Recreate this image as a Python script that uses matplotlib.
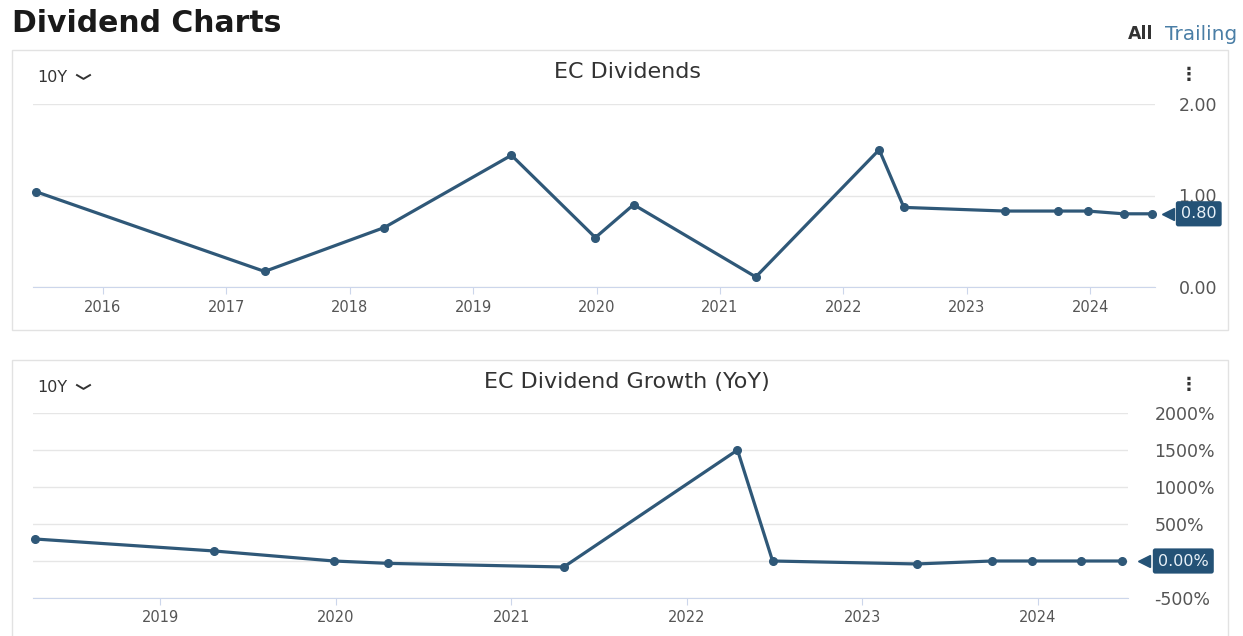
import matplotlib
matplotlib.use("Agg")  # headless
import matplotlib.pyplot as plt
from matplotlib.patches import Rectangle
from matplotlib.lines import Line2D

# --- data (decimal years) ---
div_dates = [2015.46, 2017.31, 2018.28, 2019.31, 2019.99, 2020.30, 2021.29,
             2022.29, 2022.49, 2023.31, 2023.74, 2023.98, 2024.27, 2024.50]
div_values = [1.04, 0.17, 0.65, 1.44, 0.54, 0.90, 0.11,
              1.50, 0.87, 0.83, 0.83, 0.83, 0.80, 0.80]

growth_dates = [2018.29, 2019.31, 2019.99, 2020.30, 2021.30, 2022.29,
                2022.49, 2023.31, 2023.74, 2023.97, 2024.25, 2024.48]
growth_values = [297, 135, 0, -32, -81, 1500, 0, -40, 0, 0, 0, 0]

div_years = [2016, 2017, 2018, 2019, 2020, 2021, 2022, 2023, 2024]
growth_years = [2019, 2020, 2021, 2022, 2023, 2024]
div_yticks = [0.0, 1.0, 2.0]
div_ylabels = ["0.00", "1.00", "2.00"]
growth_yticks = [-500, 0, 500, 1000, 1500, 2000]
# the 0% label sits under the value badge in the original
growth_ylabels = ["-500%", "", "500%", "1000%", "1500%", "2000%"]

LINE = "#2f5878"
BADGE = "#245276"
GRID = "#e6e6e6"
AXIS = "#ccd6eb"

W, H = 1243, 636


def fx(px):
    return px / W


def fy(py):
    return 1 - py / H


plt.rcParams["font.family"] = ["DejaVu Sans"]
fig = plt.figure(figsize=(W / 100, H / 100), dpi=100)

# panel frames
for top, bot in [(50, 330), (360, 640)]:
    fig.add_artist(Rectangle((fx(12), fy(bot)), fx(1228) - fx(12), fy(top) - fy(bot),
                             transform=fig.transFigure, fill=False,
                             edgecolor="#e2e2e2", linewidth=1))

fig.text(fx(12), fy(23), "Dividend Charts", fontsize=21.5, fontweight="bold",
         color="#1a1a1a", va="center", ha="left")
fig.text(fx(1153), fy(34), "All", fontsize=12.5, fontweight="bold", color="#333333",
         va="center", ha="right")
fig.text(fx(1165), fy(34), "Trailing", fontsize=14.5, color="#4a7ea6",
         va="center", ha="left")


def panel(rect, xlim, dates, values, years, yticks, ylabels, ylim, title,
          title_y, ylab_pad, badge_text, badge_x, tri_x):
    ax = fig.add_axes(rect)
    ax.plot(dates, values, color=LINE, linewidth=2.3, marker="o", markersize=5.5,
            clip_on=False, zorder=4)
    ax.set_xlim(*xlim)
    ax.set_ylim(*ylim)
    ax.set_xticks(years)
    ax.set_xticklabels([str(y) for y in years])
    ax.set_yticks(yticks)
    ax.set_yticklabels(ylabels)
    ax.yaxis.tick_right()
    ax.grid(axis="y", color=GRID, linewidth=1)
    ax.set_axisbelow(True)
    for s in ["top", "left", "right"]:
        ax.spines[s].set_visible(False)
    ax.spines["bottom"].set_color(AXIS)
    ax.tick_params(axis="x", length=5, color=AXIS, labelcolor="#555555",
                   labelsize=10.5, pad=4)
    ax.tick_params(axis="y", length=0, labelcolor="#555555", labelsize=12.5,
                   pad=ylab_pad)
    # value badge with a small callout arrow
    last = values[-1]
    ax.plot([tri_x], [last], marker="<", markersize=8, color=BADGE,
            transform=ax.get_yaxis_transform(), clip_on=False, zorder=5)
    ax.text(badge_x, last, badge_text, transform=ax.get_yaxis_transform(),
            ha="center", va="center", fontsize=11.5, color="#e8f1f8", zorder=6,
            bbox=dict(boxstyle="round,pad=0.32,rounding_size=0.15", fc=BADGE, ec="none"))
    # header bits
    fig.text(fx(627), fy(title_y), title, fontsize=16, color="#333333",
             ha="center", va="center")
    fig.text(fx(37), fy(title_y + 5), "10Y", fontsize=11.5, color="#333333",
             ha="left", va="center")
    cy = fy(title_y + 5)
    fig.add_artist(Line2D([fx(77), fx(83.5), fx(90)], [cy + 0.003, cy - 0.003, cy + 0.003],
                          transform=fig.transFigure, color="#333333", linewidth=1.4))
    fig.text(fx(1189), fy(title_y + 3), "\u22ee", fontsize=13, color="#333333",
             ha="center", va="center", fontweight="bold")
    return ax


panel([fx(33), fy(287), fx(1155) - fx(33), fy(104) - fy(287)],
      (2015.433, 2024.525), div_dates, div_values, div_years, div_yticks, div_ylabels,
      (0, 2.0), "EC Dividends", 72, 17, "0.80", 1.039, 1.0115)

panel([fx(33), fy(598), fx(1128) - fx(33), fy(413) - fy(598)],
      (2018.276, 2024.515), growth_dates, growth_values, growth_years, growth_yticks,
      growth_ylabels, (-500, 2000), "EC Dividend Growth (YoY)", 382, 19,
      "0.00%", 1.0505, 1.0145)

fig.savefig("out.png", dpi=100)
